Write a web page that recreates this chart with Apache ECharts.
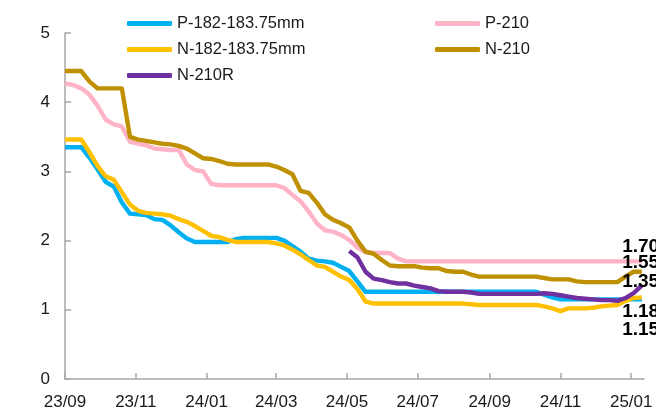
<!DOCTYPE html>
<html><head><meta charset="utf-8">
<script src="https://cdn.jsdelivr.net/npm/echarts@6/dist/echarts.min.js"></script>
<style>html,body{margin:0;padding:0;background:#fff}#c{width:656px;height:416px}</style>
</head><body><div id="c"></div>
<script>
// weekly dates
const dates = [
'2023-09-01','2023-09-08','2023-09-15','2023-09-22','2023-09-29','2023-10-06','2023-10-13','2023-10-20','2023-10-27',
'2023-11-03','2023-11-10','2023-11-17','2023-11-24','2023-12-01','2023-12-08','2023-12-15','2023-12-22','2023-12-29',
'2024-01-05','2024-01-12','2024-01-19','2024-01-26','2024-02-02','2024-02-09','2024-02-16','2024-02-23',
'2024-03-01','2024-03-08','2024-03-15','2024-03-22','2024-03-29','2024-04-05','2024-04-12','2024-04-19','2024-04-26',
'2024-05-03','2024-05-10','2024-05-17','2024-05-24','2024-05-31','2024-06-07','2024-06-14','2024-06-21','2024-06-28',
'2024-07-05','2024-07-12','2024-07-19','2024-07-26','2024-08-02','2024-08-09','2024-08-16','2024-08-23','2024-08-30',
'2024-09-06','2024-09-13','2024-09-20','2024-09-27','2024-10-04','2024-10-11','2024-10-18','2024-10-25',
'2024-11-01','2024-11-08','2024-11-15','2024-11-22','2024-11-29','2024-12-06','2024-12-13','2024-12-20','2024-12-27',
'2025-01-03','2025-01-10'
];
const tickDates = ['2023-09-01','2023-11-01','2024-01-01','2024-03-01','2024-05-01','2024-07-01','2024-09-01','2024-11-01','2025-01-01'];
const tickLabels = ['23/09','23/11','24/01','24/03','24/05','24/07','24/09','24/11','25/01'];
const yTicks = [0,1,2,3,4,5];

const seriesNames = ['P-182-183.75mm','P-210','N-182-183.75mm','N-210','N-210R'];

const p182 = [3.35,3.35,3.35,3.20,3.03,2.85,2.78,2.55,2.39,2.38,2.37,2.31,2.30,2.22,2.12,2.03,1.98,1.98,
1.98,1.98,1.98,2.02,2.04,2.04,2.04,2.04,2.04,2.00,1.92,1.84,1.74,1.71,1.70,1.68,1.62,1.56,1.41,1.26,
1.26,1.26,1.26,1.26,1.26,1.26,1.26,1.26,1.26,1.26,1.26,1.26,1.26,1.26,1.26,1.26,1.26,1.26,1.26,1.26,1.26,
1.22,1.18,1.15,1.15,1.15,1.15,1.15,1.15,1.15,1.15,1.15,1.15,1.15];

const p210 = [4.27,4.25,4.20,4.11,3.95,3.75,3.68,3.65,3.43,3.40,3.38,3.33,3.32,3.31,3.31,3.10,3.02,3.00,2.82,
2.80,2.80,2.80,2.80,2.80,2.80,2.80,2.80,
2.76,2.66,2.57,2.42,2.25,2.15,2.13,2.08,2.01,1.90,1.83,1.82,1.82,1.82,1.74,
1.70,1.70,1.70,1.70,1.70,1.70,1.70,1.70,1.70,1.70,1.70,1.70,1.70,1.70,1.70,
1.70,1.70,1.70,1.70,1.70,1.70,1.70,1.70,1.70,1.70,1.70,1.70,1.70,1.70,1.70];

const n182 = [3.46,3.46,3.46,3.28,3.08,2.93,2.88,2.70,2.52,2.43,2.40,2.39,2.38,2.36,2.31,2.27,2.21,2.14,2.07,2.05,2.01,
1.98,1.98,1.98,1.98,1.98,
1.96,1.93,1.87,1.80,1.72,1.64,1.62,1.55,1.48,1.43,1.30,1.12,
1.09,1.09,1.09,1.09,1.09,1.09,1.09,1.09,1.09,1.09,1.09,1.09,
1.08,1.07,1.07,1.07,1.07,1.07,1.07,1.07,1.07,
1.05,1.02,0.98,1.02,1.02,1.02,1.03,1.05,1.06,1.07,1.13,1.17,1.18];

const n210 = [4.45,4.45,4.45,4.30,4.20,4.20,4.20,4.20,3.50,3.46,3.44,3.42,3.40,3.39,3.37,3.33,3.26,3.19,3.18,3.15,3.11,
3.10,3.10,3.10,3.10,3.10,
3.07,3.02,2.96,2.72,2.69,2.55,2.38,2.30,2.25,2.19,2.00,1.84,1.81,1.72,1.64,1.63,1.63,1.63,1.61,1.60,1.60,1.56,1.55,1.55,1.51,
1.48,1.48,1.48,1.48,1.48,1.48,1.48,1.48,
1.46,1.44,1.44,1.44,1.41,1.40,1.40,1.40,1.40,1.40,1.48,1.55,1.55];

const n210r = [null,null,null,null,null,null,null,null,null,null,null,null,null,null,null,null,null,null,null,null,
null,null,null,null,null,null,null,null,null,null,null,null,null,null,null,
1.85,1.76,1.55,1.45,1.43,1.40,1.38,1.38,1.35,1.33,1.31,1.27,1.26,1.26,1.26,1.25,
1.23,1.23,1.23,1.23,1.23,1.23,1.23,1.23,
1.24,1.23,1.21,1.19,1.17,1.16,1.15,1.14,1.14,1.13,1.17,1.24,1.35];

const seriesValues = [p182, p210, n182, n210, n210r];
const colors = ['#00B0F0','#FFB3C6','#FFC000','#BF9000','#7030A0'];
const labelDy = [30, -15, 14, -9, -4];

function ts(s){const p=s.split('-');return Date.UTC(+p[0],+p[1]-1,+p[2]);}
const tickTs = tickDates.map(ts);

function buildSeries(i){
  const vals = seriesValues[i];
  const pts = [];
  dates.forEach((d,k)=>{ if(vals[k]!=null) pts.push([ts(d), vals[k]]); });
  const last = pts.length-1;
  const data = pts.map((p,k)=> k===last ? {
    value:p, symbol:'circle', symbolSize:1,
    label:{show:true, position:'right', distance:0, offset:[-20, labelDy[i]],
      formatter: (o)=>o.value[1].toFixed(2), fontFamily:'Liberation Sans', fontWeight:'bold', fontSize:19, color:'#000'}
  } : p);
  return {
    name: seriesNames[i], type:'line', data, symbol:'none', showSymbol:true,
    lineStyle:{color:colors[i], width:4.4, join:'round'}, itemStyle:{color:colors[i]},
    animation:false, z: 2+i
  };
}

const chart = echarts.init(document.getElementById('c'), null, {renderer:'canvas'});
const legendCommon = {orient:'vertical', top:10, itemWidth:45, itemHeight:5, itemGap:9, icon:'roundRect',
  textStyle:{fontFamily:'Liberation Sans', fontSize:16.5, color:'#1a1a1a'}, selectedMode:false};
chart.setOption({
  backgroundColor:'#fff',
  animation:false,
  legend:[
    Object.assign({left:122, data:[seriesNames[0], seriesNames[2], seriesNames[4]]}, legendCommon),
    Object.assign({left:430, data:[seriesNames[1], seriesNames[3]]}, legendCommon)
  ],
  grid:{left:65, right:12, top:33, bottom:37, containLabel:false},
  xAxis:{
    type:'value', min: ts('2023-09-01'), max: ts('2025-01-12'), scale:true,
    axisLine:{lineStyle:{color:'#A6A6A6', width:1.5}},
    axisTick:{show:true, inside:true, length:6, customValues: tickTs, lineStyle:{color:'#A6A6A6', width:1.5}},
    axisLabel:{customValues: tickTs, margin:15, fontFamily:'Liberation Sans', fontSize:17, color:'#1a1a1a',
      formatter:(v)=>{const i=tickTs.indexOf(v); return i>=0?tickLabels[i]:'';}},
    splitLine:{show:false}
  },
  yAxis:{
    type:'value', min:yTicks[0], max:yTicks[yTicks.length-1], interval:1,
    axisLine:{show:true, lineStyle:{color:'#A6A6A6', width:1.5}},
    axisTick:{show:true, inside:true, length:6, lineStyle:{color:'#A6A6A6', width:1.5}},
    axisLabel:{margin:15, fontFamily:'Liberation Sans', fontSize:17, color:'#1a1a1a'},
    splitLine:{show:false}
  },
  series: [0,1,2,3,4].map(buildSeries)
});
</script></body></html>
